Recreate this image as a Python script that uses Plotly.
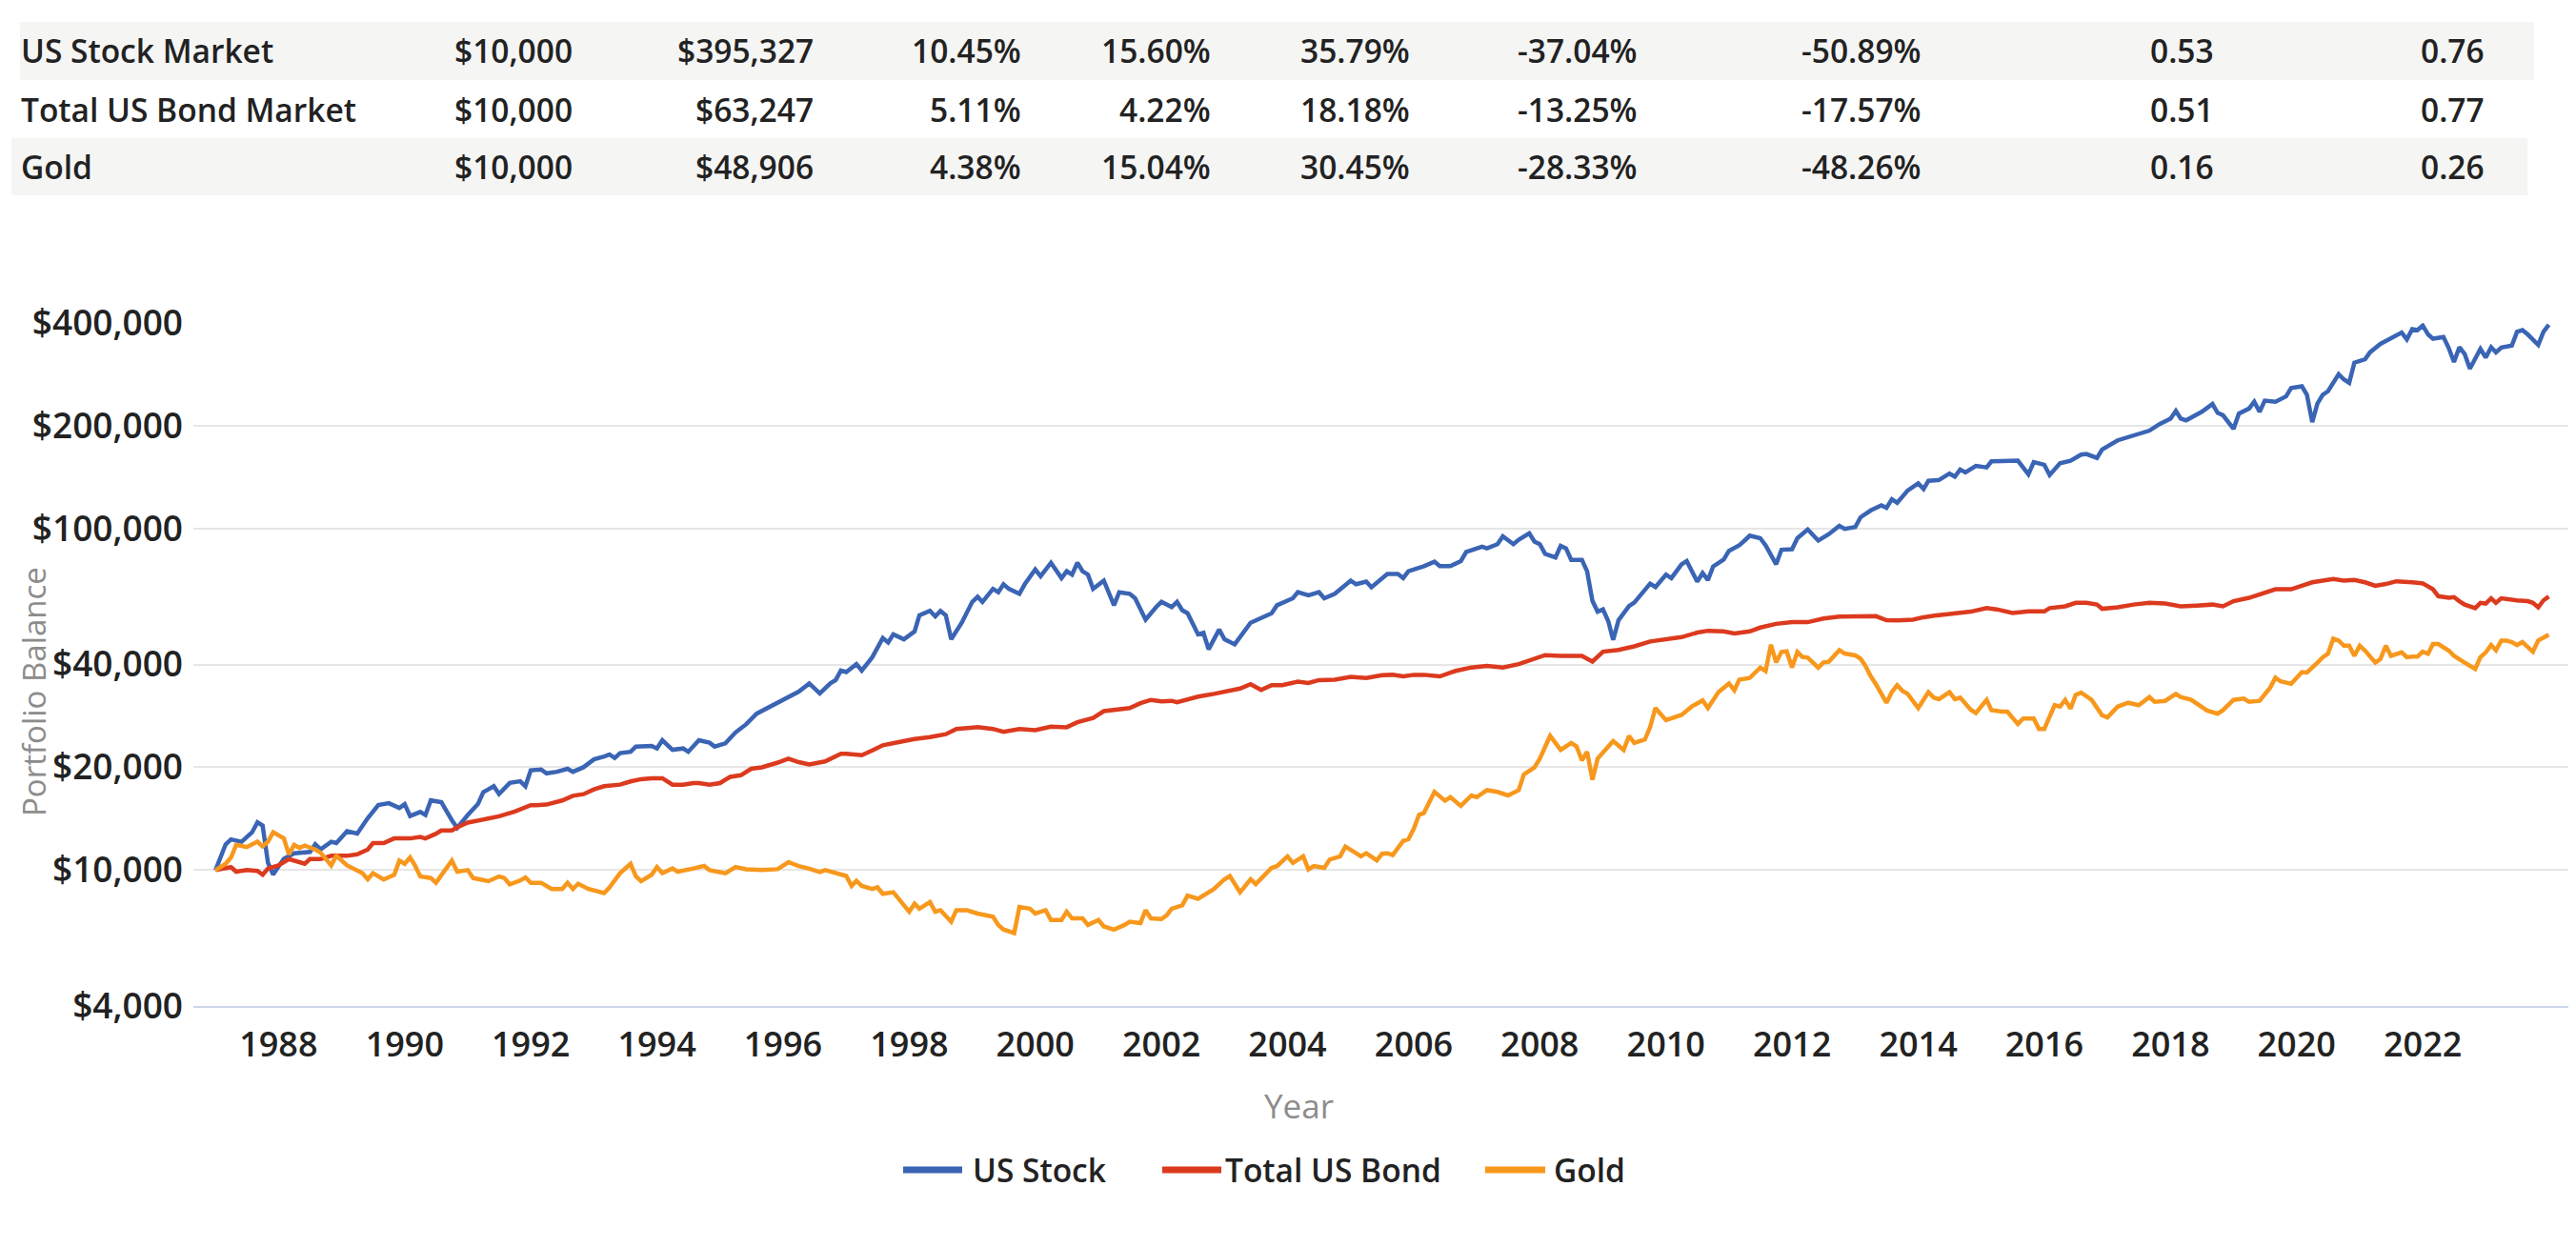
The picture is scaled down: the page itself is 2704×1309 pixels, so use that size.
import math
import pandas as pd
import plotly.graph_objects as go

# ---------------- data ----------------
# month offsets from Jan 1987 (0 = start balance), balances in USD
stock_months = [0, 2, 3, 5, 7, 8, 9, 10, 11, 12, 13, 15, 18, 19, 20, 22, 23, 25, 27, 29,
                31, 33, 35, 36, 37, 39, 40, 41, 43, 45, 46, 48, 50, 51, 53, 54, 56, 58, 59, 60,
                62, 63, 65, 67, 68, 70, 72, 74, 75, 76, 77, 79, 80, 83, 84, 85, 87, 89, 90, 92,
                94, 95, 97, 99, 101, 103, 106, 108,
                109, 111, 113, 115, 117, 118, 119, 120, 122, 123, 125, 127, 128, 129, 131, 133, 134, 136, 137, 138,
                139, 140, 142, 144, 145, 146, 148, 149, 150, 151, 153, 154, 156, 157, 159, 161, 162, 163, 164, 165,
                166, 167, 169, 171, 172, 174, 175, 177, 179, 180, 182, 183, 184, 185, 187, 188, 189, 191, 192, 194,
                197, 199, 201, 202, 205, 206, 208, 210, 211, 213, 216, 217, 219, 220, 222, 223, 225,
                226, 227, 229, 230, 232, 233, 235, 237, 238, 241, 242, 244, 245, 247, 248, 250, 251, 252, 253, 255,
                256, 257, 258, 260, 261, 262, 263, 264, 265, 266, 267, 269, 270, 272, 273, 274, 276, 277, 279, 280, 282,
                283, 284, 285, 287, 288, 290, 291, 292, 294, 295, 297, 298, 300, 301, 303, 305, 307, 309, 310, 312,
                313, 315, 317, 318, 319, 320, 322, 324, 325, 326, 328, 330, 331, 332, 333, 335, 337,
                338, 340, 341, 343, 345, 346, 348, 349, 351, 353, 355, 356, 358, 359, 362, 364, 366, 368, 370, 372,
                373, 374, 375, 377, 378, 380, 381, 382, 384, 385, 387, 388, 389, 390, 392, 394, 395, 397, 398, 399,
                400, 401, 402, 404, 405, 406, 407, 409, 410, 412, 414, 416, 417, 418, 419, 420, 421, 422, 424, 425,
                426, 427, 428, 429, 431, 432, 433, 434, 435, 437, 438, 439, 440, 442, 443, 444]
stock_values = [10000, 11900, 12300, 12100, 12900, 13800, 13500, 10500, 9700, 10300, 10800, 11200, 11300, 11900, 11500, 12100, 12000, 13000, 12800, 14200,
                15500, 15700, 15200, 15600, 14400, 14800, 14500, 16000, 15800, 14000, 13300, 14500, 15600, 16900, 17600, 16700, 18000, 18200, 17600, 19600,
                19700, 19200, 19400, 19800, 19400, 20000, 21100, 21500, 21800, 21300, 22000, 22200, 23000, 23100, 22700, 24000, 22500, 22700, 22200, 24000,
                23600, 23000, 23500, 25300, 26700, 28700, 30300, 31600,
                32200, 33300, 35200, 32900, 35200, 36000, 38400, 38000, 40100, 38400, 42000, 47800, 46400, 49000, 47400, 50000, 55700, 57400, 55300, 57400,
                55700, 47400, 53000, 61000, 63100, 61000, 66600, 65100, 68700, 66600, 64400, 68700, 75900, 72500, 79400, 71600, 75000, 73300, 79400, 75000,
                73300, 66600, 70400, 59600, 65100, 64400, 62500, 54100, 58900, 61000, 58900, 61000, 57700, 56500, 49000, 49500, 44300, 50600, 47400, 45800,
                53000, 54800, 56500, 59600, 62500, 65100, 63800, 65100, 62500, 64400, 70400, 68700, 69900, 67300, 71400, 73600, 73600,
                71600, 75000, 76700, 77600, 80000, 77600, 77600, 80300, 85400, 88500, 87500, 90000, 94900, 90000, 92800, 96900, 91600, 90000, 84300, 82300,
                89000, 87500, 81000, 81000, 75000, 61400, 57100, 58000, 53500, 47200, 53900, 59300, 60700, 65900, 69000, 67400, 73300, 71600, 78600, 80300, 69900,
                74100, 70700, 77400, 81100, 86100, 89300, 92200, 95300, 93700, 89300, 78600, 86700, 87000, 93700, 99400, 92200, 96300, 101800, 99800, 101000,
                107900, 113000, 117000, 115000, 121800, 119000, 129300, 135600, 130600, 138000, 138700, 144800, 142000, 148900, 146000, 152500, 151000,
                157300, 157500, 158000, 158000, 144100, 156500, 153700, 143500, 155400, 158000, 164600, 165300, 161000, 170400, 181300, 185500, 189900, 193500, 202600, 209800,
                221100, 209800, 207400, 214700, 219700, 231600, 218200, 214700, 195800, 217100, 224600, 235300, 219700, 236900, 235000, 243700, 257900, 260900, 246500, 204900,
                232400, 246500, 252300, 283000, 273400, 267100, 306100, 313300, 328000, 347300, 359600, 374900, 358000, 383500, 381000, 392900, 370200, 359600, 363700, 337300,
                307500, 339600, 324300, 293900, 335700, 316900, 339600, 328000, 339000, 343500, 376700, 381200, 370200, 345000, 376700, 395327]

bond_months = [0, 3, 4, 6, 8, 9, 10, 12, 14, 16, 17, 18, 20, 22, 25, 27, 29, 30, 32, 34,
               37, 39, 40, 42, 43, 45, 46, 48, 51, 54, 57, 60, 61, 63, 66, 68, 70, 72, 74, 77,
               79, 81, 83, 85, 87, 89, 91, 92, 94, 96, 98, 100, 102, 104, 107,
               109, 111, 113, 116, 119, 120, 123, 125, 127, 130, 133, 136, 139, 141, 145, 148, 150, 153, 156, 159,
               162, 164, 167, 169, 172, 174, 176, 178, 180, 182, 183, 185, 187, 190, 192, 195, 197, 199, 201, 203,
               206, 208, 210, 213, 216, 219, 222,
               224, 226, 228, 230, 233, 236, 239, 242, 245, 248, 251, 253, 256, 260, 262, 264, 267, 270, 273, 276,
               279, 282, 284, 287, 289, 292, 294, 297, 300, 303, 306, 309, 312, 315, 316, 318, 320, 323, 325, 328,
               331, 334, 337,
               339, 342, 345, 348, 349, 352, 354, 356, 358, 359, 362, 365, 368, 371, 374, 377, 380, 382, 384, 387,
               389, 392, 395, 397, 399, 401, 403, 405, 407, 409, 411, 413, 415, 418, 420, 422, 423, 425, 426, 427,
               428, 430, 431, 432, 433, 434, 435, 438, 440, 441, 442, 443, 444]
bond_values = [10000, 10200, 9890, 10000, 9940, 9690, 10100, 10320, 10770, 10550, 10440, 10770, 10770, 11010, 11010, 11120, 11490, 11990, 11990, 12380,
               12380, 12510, 12380, 12780, 13060, 13060, 13340, 13770, 14070, 14370, 14840, 15490, 15490, 15550, 15990, 16500, 16680, 17230, 17600, 17790,
               18180, 18460, 18580, 18580, 17790, 17790, 17980, 17980, 17790, 17980, 18750, 18950, 19800, 20000, 20640,
               21200, 20700, 20400, 20800, 21900, 21900, 21700, 22400, 23200, 23700, 24200, 24500, 25000, 25900, 26200, 25900, 25400, 25900, 25700, 26300,
               26200, 27100, 27900, 29200, 29500, 29800, 30800, 31500, 31200, 31300, 31000, 31600, 32200, 32800, 33300, 34000, 35000, 33700, 34800, 34800,
               35600, 35300, 36000, 36100, 36800, 36500, 37200,
               37300, 36900, 37300, 37300, 36900, 38300, 39200, 39600, 39200, 40100, 41600, 42600, 42400, 42400, 40800, 43600, 44100, 45200, 46700, 47300,
               48100, 49600, 50200, 50000, 49300, 50000, 51300, 52600, 53200, 53200, 54500, 55200, 55400, 55400, 55400, 53900, 53800, 54100, 55000, 55800,
               56500, 57100, 58500,
               58000, 56600, 57200, 57200, 58500, 59200, 60600, 60600, 59900, 58200, 58800, 59900, 60600, 60300, 59200, 59500, 59900, 59200, 61300, 62700,
               64200, 66400, 66400, 68000, 69600, 70400, 71200, 70400, 70700, 69600, 68000, 68800, 70100, 69600, 69100, 66400, 63400, 62700, 63000, 61300,
               59900, 58500, 60600, 60300, 62500, 60600, 62500, 61600, 61300, 60600, 58800, 61600, 63247]

gold_months = [0, 2, 3, 4, 6, 8, 9, 10, 11, 13, 14, 15, 16, 17, 19, 20, 22, 23, 25, 27,
               28, 29, 30, 32, 34, 35, 36, 37, 38, 39, 41, 42, 44, 45, 46, 48, 49, 52, 54, 55,
               56, 58, 59, 60, 62, 64, 66, 67, 68, 69, 71, 72, 74, 75, 77, 79, 80, 81, 83, 84,
               85, 87, 88, 91, 93, 94, 97, 99, 101, 104, 107, 109,
               111, 113, 115, 116, 118, 120, 121, 122, 123, 125, 126, 127, 129, 131, 132, 133, 134, 136, 137, 138,
               140, 141, 143, 145, 148, 149, 150, 152, 153, 155, 156, 158, 159, 161, 162, 163, 165, 166, 168, 169,
               171, 173, 174, 176, 177, 178, 180, 181, 182, 184, 185, 187, 188, 189, 190, 192, 193, 195, 196, 197,
               198, 200, 201, 202, 204, 205, 207, 208, 209, 211, 212, 214, 215, 217, 218, 219, 221, 222,
               223, 224, 226, 227, 228, 229, 230, 232, 234, 235, 237, 239, 240, 242, 244, 246, 248, 249, 251, 252,
               254, 256, 258, 259, 260, 261, 262, 263, 265, 266, 268, 269, 270, 272, 273, 274, 276, 278, 279, 281,
               283, 284, 286, 288, 289, 290, 292, 294, 295, 296, 297, 298, 299, 300, 301, 302, 303, 305, 306, 307,
               309, 310, 312, 313, 314, 315, 316, 318, 319, 320, 321, 322, 324, 326, 327, 328, 330, 331, 332, 334,
               335, 337, 338, 340, 341, 343, 344, 346, 347, 348, 350, 351, 352, 353, 354, 355, 356, 357, 359, 360,
               362, 363, 364, 366, 368, 369, 371, 373, 374, 376, 378, 379, 381, 382, 384, 386, 387, 389, 391, 392,
               393, 395, 397, 398, 400, 401, 402, 403, 404, 405, 406, 407, 408, 409, 411, 412, 413, 414, 416, 417,
               418, 419, 420, 421, 422, 423, 425, 426, 428, 430, 431, 432, 433, 434, 435, 436, 437, 438, 439, 441,
               442, 443, 444]
gold_values = [10000, 10430, 10890, 11860, 11680, 12110, 11730, 12110, 12910, 12380, 11120, 11860, 11610, 11800, 11490, 11240, 10320, 11010, 10320, 10000,
               9800, 9400, 9790, 9380, 9690, 10660, 10430, 10890, 10320, 9580, 9480, 9180, 10110, 10660, 9890, 10000, 9480, 9280, 9580, 9480,
               9080, 9320, 9520, 9180, 9180, 8800, 8800, 9180, 8800, 9120, 8800, 8710, 8560, 8890, 9790, 10430, 9580, 9280, 9690, 10210,
               9800, 10110, 9890, 10110, 10280, 10000, 9790, 10210, 10060, 10000, 10060, 10550,
               10270, 10090, 9870, 10000, 9820, 9610, 8990, 9300, 8990, 8800, 8900, 8520, 8610, 7880, 7550, 7970, 7710, 8060, 7550, 7630,
               7060, 7630, 7630, 7460, 7300, 6910, 6700, 6540, 7800, 7710, 7460, 7630, 7140, 7140, 7550, 7220, 7220, 6910, 7140, 6840,
               6690, 6910, 7060, 6990, 7630, 7220, 7190, 7380, 7710, 7880, 8420, 8240, 8420, 8610, 8800, 9400, 9610, 8610, 8990, 9400,
               9100, 9820, 10150, 10270, 10970, 10490, 10970, 10040, 10270, 10150, 10730, 10970, 11720, 11210, 10970, 11210, 10680, 11160,
               11200, 11070, 12170, 12310, 13210, 14520, 14700, 16940, 15960, 16350, 15420, 16540, 16350, 17140, 16940, 16540, 17140, 19060, 19980, 21200,
               24710, 22490, 23570, 23020, 20940, 22210, 18380, 21200, 23020, 23860, 22490, 24710, 23570, 24120, 26220, 29830, 27480, 28130, 28470, 30170,
               31400, 29830, 33190, 35190, 33610, 36090, 36520, 39170, 38270, 45700, 40560, 43530, 43700, 39170, 43530, 42100, 41900, 39170, 40560, 40750,
               44060, 43050, 42540, 41570, 39650, 36920, 35000, 30900, 33200, 34800, 33500, 32800, 29800, 33190, 32000, 31650, 33190, 31650, 32000, 29480,
               28830, 31500, 29400, 29100, 29100, 26800, 27800, 27800, 25900, 25900, 30400, 30100, 31500, 29700, 32600, 33100, 32200, 31500, 28400, 28000,
               30100, 30400, 30900, 30400, 32100, 31100, 31300, 32800, 32100, 31500, 30100, 29300, 28700, 29400, 31500, 31800, 31100, 31300, 34200, 36600,
               35700, 35100, 38000, 37900, 40500, 42000, 43000, 47600, 47000, 45400, 45400, 42400, 45400, 43900, 40500, 41500, 45400, 42400, 43400, 42000,
               42200, 42200, 43600, 43000, 45900, 45900, 43900, 42400, 40500, 38800, 42000, 43400, 45600, 44000, 47000, 47000, 46500, 45600, 46500, 43600,
               47000, 48100, 48906]

series_names = ["US Stock", "Total US Bond", "Gold"]
series_colors = ["#3a64b4", "#dc3a1e", "#f7981d"]

# summary table shown above the chart
table_names = ["US Stock Market", "Total US Bond Market", "Gold"]
initial_balance = ["$10,000", "$10,000", "$10,000"]
final_balance = ["$395,327", "$63,247", "$48,906"]
cagr = ["10.45%", "5.11%", "4.38%"]
stdev = ["15.60%", "4.22%", "15.04%"]
best_year = ["35.79%", "18.18%", "30.45%"]
worst_year = ["-37.04%", "-13.25%", "-28.33%"]
max_drawdown = ["-50.89%", "-17.57%", "-48.26%"]
sharpe_ratio = ["0.53", "0.51", "0.16"]
sortino_ratio = ["0.76", "0.77", "0.26"]

y_tick_values = [4000, 10000, 20000, 40000, 100000, 200000, 400000]
y_tick_labels = ["$4,000", "$10,000", "$20,000", "$40,000", "$100,000", "$200,000", "$400,000"]
x_tick_years = list(range(1988, 2023, 2))

# ---------------- layout geometry (pixels) ----------------
W, H = 2704, 1309
PL, PR, PT, PB = 195, 2691, 331, 1048   # plot area
FONT = "Open Sans"
TXT = "#222222"


def px(x):
    return (x - PL) / (PR - PL)


def py(y):
    return (PB - y) / (PB - PT)


START = pd.Timestamp("1987-01-01")


def to_dates(months):
    return [START + pd.DateOffset(months=int(m)) for m in months]


fig = go.Figure()
for name, months, vals, col in zip(series_names,
                                   [stock_months, bond_months, gold_months],
                                   [stock_values, bond_values, gold_values],
                                   series_colors):
    fig.add_trace(go.Scatter(x=to_dates(months), y=vals, mode="lines", name=name,
                             line=dict(color=col, width=4.5), showlegend=False))

shapes = []
annotations = []

# table background bands (rows 1 and 3)
shapes.append(dict(type="rect", xref="paper", yref="paper", x0=px(13), x1=px(2652), y0=py(76), y1=py(15),
                   fillcolor="#f5f5f4", line=dict(width=0), layer="below"))
shapes.append(dict(type="rect", xref="paper", yref="paper", x0=px(4), x1=px(2645), y0=py(197), y1=py(137),
                   fillcolor="#f5f5f4", line=dict(width=0), layer="below"))

row_y = [45, 107, 167]
col_right = [595, 848, 1066, 1265, 1474, 1713, 2011, 2318, 2602]
columns = [initial_balance, final_balance, cagr, stdev, best_year, worst_year,
           max_drawdown, sharpe_ratio, sortino_ratio]
tfont = dict(family=FONT, size=33.5, color=TXT, weight=600)
for i in range(3):
    annotations.append(dict(xref="paper", yref="paper", x=px(12), y=py(row_y[i]), text=table_names[i],
                            xanchor="left", yanchor="middle", showarrow=False, font=tfont))
    for xr, col in zip(col_right, columns):
        annotations.append(dict(xref="paper", yref="paper", x=px(xr), y=py(row_y[i]), text=col[i],
                                xanchor="right", yanchor="middle", showarrow=False, font=tfont))

# axis titles
annotations.append(dict(xref="paper", yref="paper", x=px(27), y=py(718), text="Portfolio Balance",
                        textangle=-90, xanchor="center", yanchor="middle", showarrow=False,
                        font=dict(family=FONT, size=33, color="#8c8c8c")))
annotations.append(dict(xref="paper", yref="paper", x=px(1355), y=py(1152), text="Year",
                        xanchor="center", yanchor="middle", showarrow=False,
                        font=dict(family=FONT, size=35, color="#8c8c8c")))

# legend
leg_y = 1220
leg_items = [(940, 1002, 1011), (1212, 1274, 1276), (1551, 1614, 1621)]
for (x0, x1, xt), name, col in zip(leg_items, series_names, series_colors):
    shapes.append(dict(type="line", xref="paper", yref="paper", x0=px(x0), x1=px(x1), y0=py(leg_y), y1=py(leg_y),
                       line=dict(color=col, width=7)))
    annotations.append(dict(xref="paper", yref="paper", x=px(xt), y=py(leg_y), text=name,
                            xanchor="left", yanchor="middle", showarrow=False,
                            font=dict(family=FONT, size=33.5, color=TXT, weight=600)))

fig.update_layout(
    width=W, height=H,
    margin=dict(l=PL, r=W - PR, t=PT, b=H - PB, pad=0),
    paper_bgcolor="white", plot_bgcolor="white",
    shapes=shapes, annotations=annotations,
    showlegend=False,
    font=dict(family=FONT, color=TXT),
)
fig.update_xaxes(
    type="date",
    range=[START - pd.DateOffset(days=128), START + pd.DateOffset(months=444) + pd.DateOffset(days=130)],
    tickvals=[pd.Timestamp(f"{y}-01-01") for y in x_tick_years],
    ticktext=[str(y) for y in x_tick_years],
    showgrid=False, zeroline=False,
    showline=True, linecolor="#ccd6eb", linewidth=2,
    ticks="", ticklabelstandoff=8,
    tickfont=dict(family=FONT, size=36, color=TXT, weight=600),
)
fig.update_yaxes(
    type="log",
    range=[math.log10(4000), math.log10(400000)],
    tickvals=y_tick_values, ticktext=y_tick_labels,
    showgrid=True, gridcolor="#e6e6e6", gridwidth=2,
    zeroline=False, showline=False, ticks="",
    ticklabelstandoff=10,
    tickfont=dict(family=FONT, size=37, color=TXT, weight=600),
)

fig.write_html("out.html")
